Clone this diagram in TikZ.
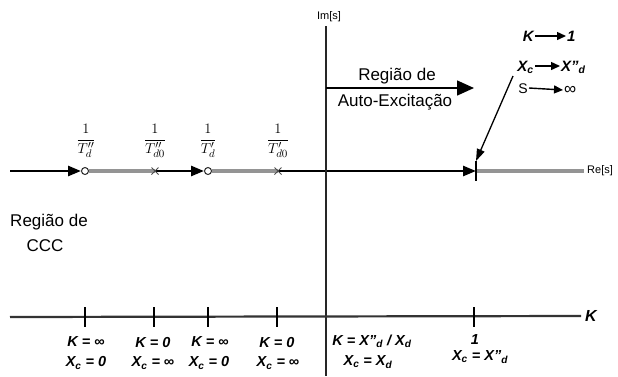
\documentclass[tikz,border=0pt]{standalone}
\usepackage{fontspec}
\setmainfont{Liberation Sans}
\usetikzlibrary{arrows.meta,shapes.misc}
\definecolor{axgray}{gray}{0.58}
\begin{document}
\begin{tikzpicture}[x=1pt,y=-1pt,
  blk/.style={line width=2.6pt,draw=black},
  gry/.style={line width=3.2pt,draw=axgray},
  tip/.style={-{Triangle[length=13pt,width=10pt]}},
  zero/.style={circle,draw=black!85,line width=1pt,fill=white,minimum size=7pt,inner sep=0pt},
  pole/.style={cross out,draw=black!70,line width=1pt,minimum size=6pt,inner sep=0pt},
  frac/.style={font=\fontsize{15}{17}\selectfont,inner sep=0pt},
  lab/.style={font=\fontsize{14.5}{16}\selectfont\bfseries\itshape,inner sep=0pt},
  txt/.style={font=\fontsize{17}{19}\selectfont,inner sep=0pt},
  small/.style={font=\fontsize{11}{13}\selectfont,inner sep=0pt},
  legend/.style={font=\fontsize{15}{17}\selectfont\bfseries\itshape,inner sep=1pt},
  legarr/.style={line width=1.4pt,-{Triangle[length=9pt,width=8pt]}},
  tick/.style={line width=1.3pt,draw=black}
]
\useasboundingbox (0,0) rectangle (618,376);

% real axis
\coordinate (s0) at (10,171);
\node[zero] (c1) at (85,171) {};
\coordinate (x1) at (155,171);
\node[zero] (c2) at (208,171) {};
\coordinate (x2) at (278,171);
\coordinate (t) at (476,171);
\coordinate (ttop) at (476,161);
\coordinate (tbot) at (476,181);
\node[small,anchor=west] (relab) at (587,171) {Re[s]};

\draw[gry] (c1) -- (x1);
\draw[gry] (c2) -- (x2);
\draw[gry] (t) -- ([xshift=-3pt]relab.west);
\draw[blk,tip] (s0) -- (c1);
\draw[blk,tip] (x1) -- (c2);
\draw[blk,tip] (x2) -- (t);
\draw[tick] (ttop) -- (tbot);
\node[pole] (p1) at (x1) {};
\node[pole] (p2) at (x2) {};

% fractions
\node[frac] (f1) at (86,141) {$\displaystyle\frac{1}{T''_d}$};
\node[frac] (f2) at (155,141) {$\displaystyle\frac{1}{T''_{d0}}$};
\node[frac] (f3) at (208,141) {$\displaystyle\frac{1}{T'_d}$};
\node[frac] (f4) at (278,141) {$\displaystyle\frac{1}{T'_{d0}}$};

% imaginary axis
\node[small] (im) at (329,17) {Im[s]};
\coordinate (vtop) at (326,26);
\coordinate (vbot) at (326,376);
\draw[line width=1.8pt,black!85] (vtop) -- (vbot);

% self-excitation region
\coordinate (ax0) at (326,88);
\coordinate (ax1) at (474,88);
\draw[line width=1.5pt,-{Triangle[length=17pt,width=15pt]}] (ax0) -- (ax1);
\node[txt] (r1) at (397,76) {Região de};
\node[txt] (r2) at (395,102) {Auto-Excitação};

% legend
\node[legend,anchor=base east] (lk) at (535,41) {K};
\node[legend,anchor=base west] (l1) at (566,41) {1};
\draw[legarr] ([yshift=5pt]lk.base east) -- ([yshift=5pt]l1.base west);
\node[legend,anchor=base east] (lx) at (535,71) {X\textsubscript{c}};
\node[legend,anchor=base west] (lxd) at (560,71) {X"\textsubscript{d}};
\draw[legarr] ([yshift=5pt]lx.base east) -- ([yshift=5pt]lxd.base west);
\node[font=\fontsize{14}{16}\selectfont,inner sep=1pt,anchor=base east] (ls) at (529,93) {S};
\node[font=\fontsize{17}{19}\selectfont,inner sep=1pt,anchor=base west] (linf) at (563,94) {∞};
\draw[legarr] ([yshift=5pt]ls.base east) -- ([yshift=4pt]linf.base west);
\coordinate (dstart) at (513,76);
\draw[line width=1.3pt,-{Triangle[length=12pt,width=8pt]}] (dstart) -- (ttop);

% CCC region
\node[txt] (cc1) at (49,222) {Região de};
\node[txt] (cc2) at (45,246) {CCC};

% K axis
\coordinate (k0) at (10,317);
\node[lab,font=\fontsize{16}{18}\selectfont\bfseries\itshape] (klab) at (591,316) {K};
\draw[line width=2.2pt,black!80] (k0) -- ([xshift=-4pt]klab.west);
\foreach \n/\x in {a/85,b/154,c/208,d/277,e/474}{
  \coordinate (kt\n) at (\x,307);
  \coordinate (kb\n) at (\x,327);
  \draw[tick] (kt\n) -- (kb\n);
}

% K axis labels
\node[lab] (la1) at (86,342) {K = ∞};
\node[lab] (la2) at (86,363) {X\textsubscript{c} = 0};
\node[lab] (lb1) at (153,342) {K = 0};
\node[lab] (lb2) at (153,363) {X\textsubscript{c} = ∞};
\node[lab] (lc1) at (210,342) {K = ∞};
\node[lab] (lc2) at (209,363) {X\textsubscript{c} = 0};
\node[lab] (ld1) at (277,342) {K = 0};
\node[lab] (ld2) at (278,363) {X\textsubscript{c} = ∞};
\node[lab] (le1) at (372,341) {K = X"\textsubscript{d} / X\textsubscript{d}};
\node[lab] (le2) at (368,362) {X\textsubscript{c} = X\textsubscript{d}};
\node[lab] (lf1) at (475,340) {1};
\node[lab] (lf2) at (480,357) {X\textsubscript{c} = X"\textsubscript{d}};
\end{tikzpicture}
\end{document}
